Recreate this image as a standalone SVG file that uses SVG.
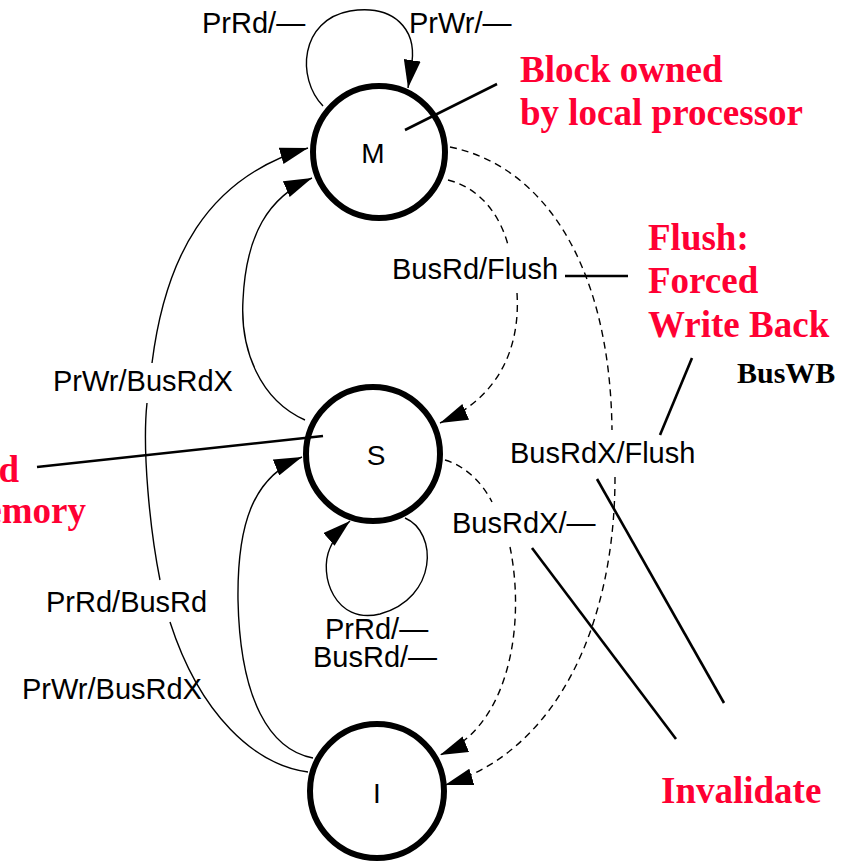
<svg xmlns="http://www.w3.org/2000/svg" width="858" height="861" viewBox="0 0 858 861">
<defs>
<marker id="ah" viewBox="0 0 28 17" refX="28" refY="8.5" markerWidth="28" markerHeight="17" orient="auto" markerUnits="userSpaceOnUse">
<path d="M0,0 L28,8.5 L0,17 z" fill="#000"/>
</marker>
<style>
.state{fill:#fff;stroke:#000;stroke-width:6}
.sl{font-family:"Liberation Sans",Arial,sans-serif;font-size:28px;fill:#000;text-anchor:middle}
.lbl{font-family:"Liberation Sans",Arial,sans-serif;font-size:29px;fill:#000}
.edge{fill:none;stroke:#000;stroke-width:1.4;marker-end:url(#ah)}
.dash{stroke-dasharray:7 5}
.ptr{fill:none;stroke:#000;stroke-width:2.6}
.note{font-family:"Liberation Serif","Times New Roman",serif;font-weight:bold;font-size:37px;fill:#ff0033}
.bw{font-family:"Liberation Serif","Times New Roman",serif;font-weight:bold;font-size:30px;fill:#000}
</style>
</defs>
<rect width="858" height="861" fill="#fff"/>

<g id="node-M">
<circle class="state" cx="379" cy="152" r="66"/>
<text class="sl" x="373" y="163">M</text>
</g>
<g id="node-S">
<circle class="state" cx="373" cy="454" r="67"/>
<text class="sl" x="376" y="465">S</text>
</g>
<g id="node-I">
<circle class="state" cx="377" cy="791" r="67"/>
<text class="sl" x="377" y="803">I</text>
</g>

<g id="connectors">
<path class="edge" d="M323,106 C296,78 300,20 350,11 C395,4 416,30 412,62 L408,88"/>
<path class="edge" d="M308,772 C255,765 200,715 170,622 M160,580 C150,530 142,450 147,403 M152,363 C165,260 205,178 308,148"/>
<path class="edge" d="M305,420 C260,400 240,350 243,300 C246,235 268,197 312,178"/>
<path class="edge" d="M313,758 C270,750 240,700 238,600 C237,520 255,476 302,457"/>
<path class="edge" d="M405,518 C438,532 438,598 380,614 C335,625 318,575 330,548 C334,538 342,528 350,521"/>
<path class="edge dash" d="M448,180 C480,188 500,215 508,245 M517,293 C520,340 505,395 440,423"/>
<path class="edge dash" d="M450,147 C540,165 610,260 612,430 M615,477 C615,620 560,750 445,785"/>
<path class="edge dash" d="M445,460 C465,466 482,482 492,502 M510,547 C525,620 512,725 440,755"/>
</g>

<g id="edge-labels">
<text class="lbl" x="202" y="33">PrRd/—</text>
<text class="lbl" x="409" y="33">PrWr/—</text>
<text class="lbl" x="392" y="279">BusRd/Flush</text>
<text class="lbl" x="53" y="391">PrWr/BusRdX</text>
<text class="lbl" x="510" y="463">BusRdX/Flush</text>
<text class="lbl" x="452" y="533">BusRdX/—</text>
<text class="lbl" x="46" y="612">PrRd/BusRd</text>
<text class="lbl" x="325" y="639">PrRd/—</text>
<text class="lbl" x="313" y="667">BusRd/—</text>
<text class="lbl" x="22" y="699">PrWr/BusRdX</text>
</g>

<g id="annotations">
<line class="ptr" x1="405" y1="130" x2="497" y2="84"/>
<line class="ptr" x1="37" y1="467" x2="323" y2="436"/>
<line class="ptr" x1="565" y1="276" x2="628" y2="276"/>
<line class="ptr" x1="660" y1="435" x2="692" y2="358"/>
<line class="ptr" x1="597" y1="479" x2="724" y2="703"/>
<line class="ptr" x1="532" y1="548" x2="676" y2="739"/>
<text class="note" x="520" y="82">Block owned</text>
<text class="note" x="520" y="125">by local processor</text>
<text class="note" x="648" y="250">Flush:</text>
<text class="note" x="648" y="293">Forced</text>
<text class="note" x="648" y="337">Write Back</text>
<text class="bw" x="737" y="383">BusWB</text>
<text class="note" x="661" y="803">Invalidate</text>
<text class="note" x="19" y="482" text-anchor="end">d</text>
<text class="note" x="86" y="523" text-anchor="end">emory</text>
</g>
</svg>
